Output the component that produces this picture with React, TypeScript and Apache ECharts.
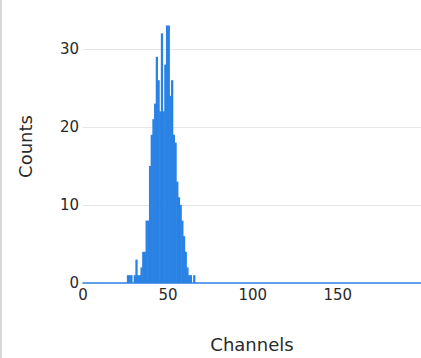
import React, { useEffect, useRef } from "react";
import * as echarts from "echarts";

// Histogram bins (bin start channel) and counts
const binStarts = [26, 27, 28, 30, 31, 32, 33, 34, 35, 36, 37, 38, 39, 40, 41, 42, 43, 44, 45, 46, 47, 48, 49, 50, 51, 52, 53, 54, 55, 56, 57, 58, 59, 60, 61, 62, 63, 65];
const counts = [1, 1, 1, 1, 3, 1, 1, 2, 4, 4, 8, 8, 15, 19, 21, 23, 29, 26, 22, 32, 22, 28, 33, 33, 24, 26, 19, 18, 13, 11, 10, 8, 6, 4, 2, 1, 1, 1];
const xMin = 0;
const xMax = 199;
const xInterval = 50;
const yMin = 0;
const yMax = 35;
const yInterval = 10;

export default function App() {
  const ref = useRef<HTMLDivElement>(null);
  useEffect(() => {
    document.body.style.margin = "0";
    const chart = echarts.init(ref.current!, undefined, { renderer: "svg" });
    const font = "DejaVu Sans";
    chart.setOption({
      animation: false,
      backgroundColor: "#ffffff",
      grid: { left: 83, right: -4, top: 10, bottom: 73, containLabel: false },
      xAxis: {
        type: "value",
        min: xMin,
        max: xMax,
        interval: xInterval,
        name: "Channels",
        nameLocation: "middle",
        nameGap: 52,
        nameTextStyle: { fontFamily: font, fontSize: 18, color: "#2a2a2a" },
        axisLine: { show: true, lineStyle: { color: "#2a82e4", width: 1.5 } },
        axisTick: { show: false },
        splitLine: { show: false },
        axisLabel: { margin: 4, fontFamily: font, fontSize: 15, color: "#2a2a2a", showMaxLabel: false },
      },
      yAxis: {
        type: "value",
        min: yMin,
        max: yMax,
        interval: yInterval,
        name: "Counts",
        nameLocation: "middle",
        nameGap: 49,
        nameTextStyle: { fontFamily: font, fontSize: 18, color: "#2a2a2a" },
        axisLine: { show: false },
        axisTick: { show: false },
        splitLine: { show: true, showMinLine: false, showMaxLine: false, lineStyle: { color: "#e6e6e6", width: 1 } },
        axisLabel: { margin: 4, fontFamily: font, fontSize: 15, color: "#2a2a2a", showMaxLabel: false },
      },
      series: [
        {
          type: "bar",
          data: binStarts.map((c, i) => [c + 0.5, counts[i]]),
          barWidth: "135%",
          barCategoryGap: "0%",
          itemStyle: { color: "#2a82e4" },
        },
      ],
    });
    return () => chart.dispose();
  }, []);
  return (
    <div style={{ position: "fixed", left: 0, top: 0, width: 421, height: 358, overflow: "hidden", background: "#fff" }}>
      <div ref={ref} style={{ position: "absolute", left: 0, top: 0, width: 421, height: 358 }} />
      <div style={{ position: "absolute", left: 0, top: 0, width: 2, height: 358, background: "#d9d9d9" }} />
    </div>
  );
}
